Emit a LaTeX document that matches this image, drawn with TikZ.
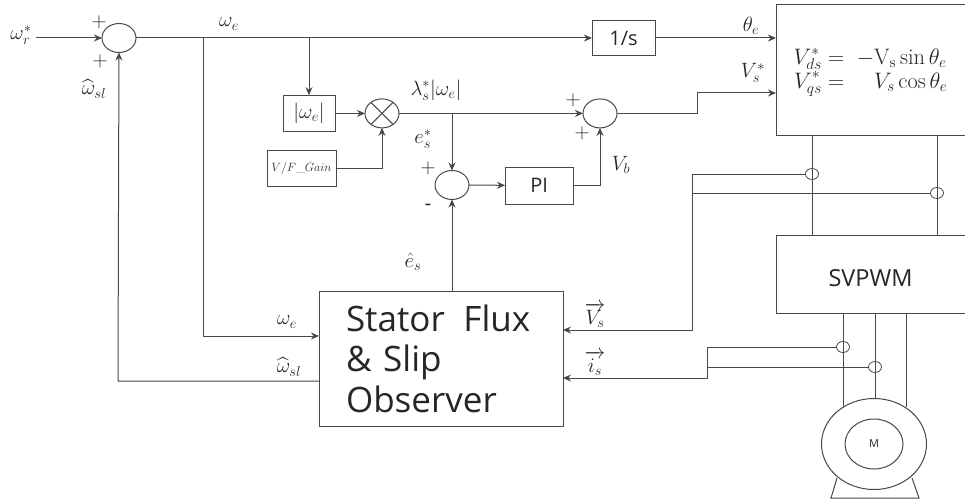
\documentclass[tikz,border=0pt]{standalone}
\usepackage{amsmath}
\usepackage{amssymb}
\usepackage{fontspec}
\newfontfamily\boxfont{Open Sans}
\usetikzlibrary{positioning}
\usetikzlibrary{shapes.geometric}
\usetikzlibrary{arrows.meta}
\definecolor{wire}{HTML}{484848}
\tikzset{
  every node/.style={font=\huge,inner sep=0pt,outer sep=0pt,text=black!85},
  block/.style={draw=wire,line width=1pt,rectangle},
  summer/.style={draw=wire,line width=1pt,ellipse,minimum width=34pt,minimum height=29pt},
  sensor/.style={draw=wire,line width=.8pt,ellipse,minimum width=13pt,minimum height=11pt},
  sig/.style={-{Stealth[length=8pt,width=7pt]}},
}
\begin{document}
\begin{tikzpicture}[x=1pt,y=-1pt,line width=1pt,draw=wire]
\useasboundingbox (0,0) rectangle (965,500);
% summing points and blocks
\node[summer] (sumw) at (119,38) {};
\node[summer] (mult) at (382,113.4) {};
\node[summer] (sume) at (452,185) {};
\node[summer] (sumv) at (600,113.4) {};
\draw (mult.45) -- (mult.225) (mult.135) -- (mult.315);
\node[block,minimum width=63pt,minimum height=35pt,font=\boxfont\fontsize{20}{24}\selectfont] (integ) at (623.5,38) {1/s};
\node[block,minimum width=52pt,minimum height=36.5pt] (absw) at (309,113.4) {$|\omega_e|$};
\node[block,minimum width=69pt,minimum height=36pt,font=\large] (vfgain) at (301.5,168) {$V/F\_Gain$};
\node[block,minimum width=68.5pt,minimum height=37pt,font=\boxfont\fontsize{20}{24}\selectfont] (pictrl) at (539.25,185.5) {PI};
\node[block,minimum width=244pt,minimum height=135pt,text width=190pt,align=left,font=\boxfont\fontsize{35}{40.5}\selectfont] (observer) at (441,358.5)
  {Stator\hspace{7pt} Flux\\ \& Slip\\ Observer};
\node[block,minimum width=204pt,minimum height=130pt] (transf) at (878,70) {};
\node[block,minimum width=204pt,minimum height=78.5pt] (svpwm) at (878,274.25) {};
\node[font=\boxfont\fontsize{23.5}{28}\selectfont] (svpwmtxt) at (870.5,278) {SVPWM};
\node[scale=1.08] (eqns) at (870.5,71) {$\begin{aligned} V_{ds}^* &= \;-\mathrm{V_s}\sin\theta_e\\[-6pt] V_{qs}^* &= \;\phantom{-}V_s\cos\theta_e \end{aligned}$};
% motor
\draw (837,478) -- (831,498) -- (919,498) -- (912,478);
\node[draw=wire,fill=white,ellipse,line width=1pt,minimum width=105pt,minimum height=91pt] (motor) at (874,444) {};
\node[draw=wire,ellipse,line width=1pt,minimum width=58pt,minimum height=50pt,font=\boxfont\fontsize{11}{13}\selectfont] (rotor) at (874,444) {M};
% current and voltage sensors
\node[sensor] (sensva) at (812,174) {};
\node[sensor] (sensvb) at (937,193) {};
\node[sensor] (sensia) at (843,347) {};
\node[sensor] (sensib) at (875,367) {};
\coordinate (wsplit) at (203,38);
\coordinate (wabs) at (309,38);
\coordinate (esplit) at (452,113.4);
\coordinate (turnv) at (697,113.4);
\coordinate (turnw) at (118,381);
\coordinate (vturn) at (692,330);
\coordinate (iturn) at (707,378);
\coordinate (wrin) at (36,38);
\path[sig]
  (wrin) edge (sumw)
  (sumw) edge (integ)
  (integ) edge (integ -| transf.west)
  (wabs) edge (absw)
  (absw) edge (mult)
  (mult) edge (sumv)
  (esplit) edge (sume)
  (sume) edge (pictrl);
\draw[sig] (vfgain) -| (mult);
\draw[sig] (pictrl) -| (sumv);
\draw[sig] (sumv) -- (turnv) |- (transf.west |- 0,93);
\draw[sig] (observer.north -| sume) -- (sume);
\draw[sig] (wsplit) |- (observer.west |- 0,336);
\draw[sig] (observer.west |- turnw) -- (turnw) -- (sumw);
\draw[sig] (sensva.west) -| (vturn) -- (observer.east |- vturn);
\draw (sensvb.west) -- (sensvb.west -| vturn);
\draw[sig] (sensia.west) -| (iturn) -- (observer.east |- iturn);
\draw (sensib.west) -- (sensib.west -| iturn);
% phase wires
\draw (transf.south -| sensva) -- (svpwm.north -| sensva);
\draw (transf.south -| sensvb) -- (svpwm.north -| sensvb);
\draw (svpwm.south -| sensia) -- (843,407);
\draw (svpwm.south -| sensib) -- (motor.north -| sensib);
\draw (svpwm.south -| 906,0) -- (906,407);
% signal names
\node (wrstar) at (21,35) {$\omega_r^*$};
\node (wetop) at (229,24) {$\omega_e$};
\node (wsltop) at (94,89) {$\widehat{\omega}_{sl}$};
\node (flux) at (436,90) {$\lambda_s^*|\omega_e|$};
\node (estar) at (423,139) {$e_s^*$};
\node (thetae) at (751,26) {$\theta_e$};
\node (vstar) at (753,73) {$V_s^*$};
\node (vb) at (621,165) {$V_b$};
\node (ehat) at (413,262) {$\hat{e}_s$};
\node (weobs) at (287,322) {$\omega_e$};
\node (wslobs) at (289,367) {$\widehat{\omega}_{sl}$};
\node (vsvec) at (595,315) {$\overrightarrow{V_s}$};
\node (isvec) at (595,363) {$\overrightarrow{i_s}$};
\node (pa) at (99,22) {$+$};
\node (pb) at (100,61) {$+$};
\node (pc) at (428,168) {$+$};
\node (mc) at (428,207) {\boxfont -};
\node (pd) at (573,100) {$+$};
\node (pe) at (582,133) {$+$};
\end{tikzpicture}
\end{document}
